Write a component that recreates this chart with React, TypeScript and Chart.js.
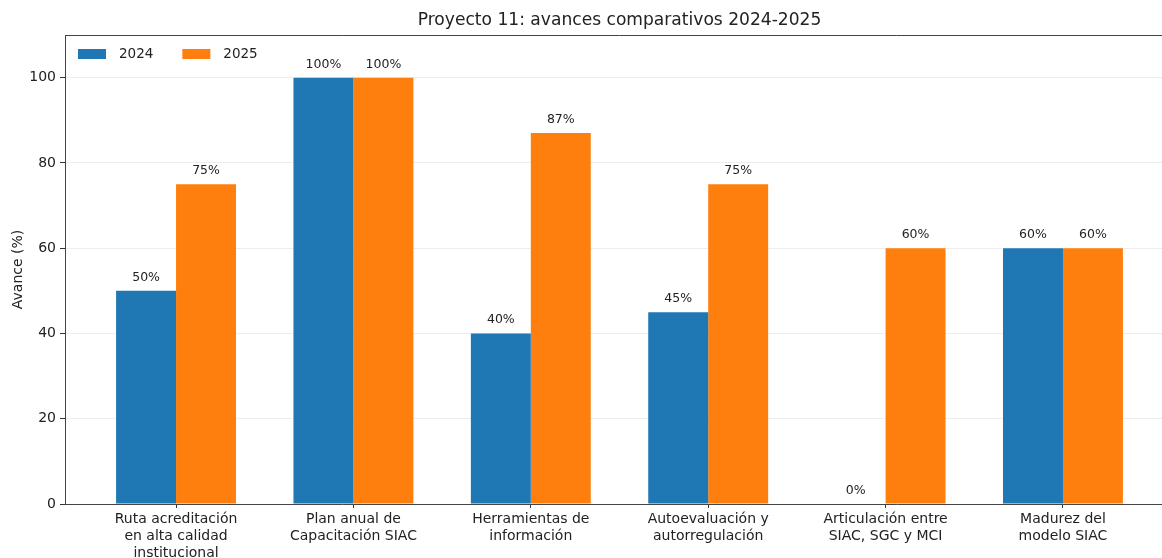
import React, { useEffect, useRef } from "react";
import { Chart, registerables } from "chart.js";

Chart.register(...registerables);

const categories: string[][] = [
  ["Ruta acreditación", "en alta calidad", "institucional"],
  ["Plan anual de", "Capacitación SIAC"],
  ["Herramientas de", "información"],
  ["Autoevaluación y", "autorregulación"],
  ["Articulación entre", "SIAC, SGC y MCI"],
  ["Madurez del", "modelo SIAC"],
];
const values2024 = [50, 100, 40, 45, 0, 60];
const values2025 = [75, 100, 87, 75, 60, 60];
const seriesLabels = ["2024", "2025"];
const seriesColors = ["#1f77b4", "#ff7f0e"];
const yTicks = [0, 20, 40, 60, 80, 100];
const chartTitle = "Proyecto 11: avances comparativos 2024-2025";
const yTitle = "Avance (%)";

const FONT = "'DejaVu Sans', sans-serif";

const topSpine = {
  id: "topSpine",
  afterDraw(chart: any) {
    const { ctx, chartArea } = chart;
    ctx.save();
    ctx.strokeStyle = "#444";
    ctx.lineWidth = 1;
    ctx.beginPath();
    ctx.moveTo(chartArea.left, chartArea.top + 0.5);
    ctx.lineTo(chartArea.right, chartArea.top + 0.5);
    ctx.stroke();
    ctx.restore();
  },
};

const valueLabels = {
  id: "valueLabels",
  afterDatasetsDraw(chart: any) {
    const { ctx } = chart;
    ctx.save();
    ctx.font = `12.5px ${FONT}`;
    ctx.fillStyle = "#222";
    ctx.textAlign = "center";
    ctx.textBaseline = "alphabetic";
    chart.data.datasets.forEach((ds: any, di: number) => {
      const meta = chart.getDatasetMeta(di);
      meta.data.forEach((el: any, i: number) => {
        const v = ds.data[i].y;
        ctx.fillText(`${v}%`, el.x, el.y - 10);
      });
    });
    ctx.restore();
  },
};

const customLegend = {
  id: "customLegend",
  afterDraw(chart: any) {
    const { ctx, chartArea } = chart;
    ctx.save();
    ctx.font = `13.5px ${FONT}`;
    ctx.textBaseline = "middle";
    ctx.textAlign = "left";
    let x = chartArea.left + 13;
    const y = chartArea.top + 14;
    chart.data.datasets.forEach((ds: any) => {
      ctx.fillStyle = ds.backgroundColor;
      ctx.fillRect(x, y, 28, 10);
      ctx.fillStyle = "#222";
      const tx = x + 28 + 13;
      ctx.fillText(ds.label, tx, y + 5);
      x = tx + ctx.measureText(ds.label).width + 29;
    });
    ctx.restore();
  },
};

export default function App() {
  const ref = useRef<HTMLCanvasElement>(null);
  useEffect(() => {
    if (!ref.current) return;
    const chart = new Chart(ref.current, {
      type: "bar",
      data: {
        datasets: [values2024, values2025].map((vals, si) => ({
          label: seriesLabels[si],
          data: vals.map((v, i) => ({ x: i, y: v })),
          backgroundColor: seriesColors[si],
          borderWidth: 0,
          categoryPercentage: 0.676,
          barPercentage: 1.0,
        })),
      },
      options: {
        responsive: false,
        animation: false,
        layout: { padding: { left: 0, right: 6, top: 0, bottom: 0 } },
        plugins: {
          legend: { display: false },
          tooltip: { enabled: false },
          title: {
            display: true,
            text: chartTitle,
            fullSize: false,
            color: "#222",
            font: { family: FONT, size: 17.1, weight: "normal", lineHeight: "18px" },
            padding: { top: 12, bottom: 5 },
          },
        },
        scales: {
          x: {
            type: "linear",
            offset: false,
            min: -0.626,
            max: 5.626,
            afterBuildTicks: (scale: any) => {
              scale.ticks = categories.map((_, i) => ({ value: i }));
            },
            afterFit: (scale: any) => {
              scale.height = 54;
            },
            ticks: {
              callback: (v: any) => categories[v as number] || "",
              color: "#222",
              font: { family: FONT, size: 14, lineHeight: "17px" },
              padding: 3,
              maxRotation: 0,
              autoSkip: false,
            },
            grid: {
              offset: false,
              drawOnChartArea: false,
              drawTicks: true,
              tickLength: 4,
              tickColor: "#333",
            },
            border: { display: true, color: "#444", width: 1 },
          },
          y: {
            min: 0,
            max: 110,
            afterBuildTicks: (scale: any) => {
              scale.ticks = yTicks.map((v) => ({ value: v }));
            },
            afterFit: (scale: any) => {
              scale.width = 65;
            },
            ticks: {
              color: "#222",
              font: { family: FONT, size: 14 },
              padding: 4,
            },
            grid: {
              color: "rgba(0,0,0,0.07)",
              tickColor: "#333",
              tickLength: 5,
            },
            border: { display: true, color: "#444", width: 1 },
            title: {
              display: true,
              text: yTitle,
              color: "#222",
              font: { family: FONT, size: 14, lineHeight: "16px" },
              padding: { top: 10, bottom: 0 },
            },
          },
        },
      },
      plugins: [topSpine, valueLabels, customLegend],
    });
    return () => chart.destroy();
  }, []);

  return (
    <div
      style={{
        position: "absolute",
        left: 0,
        top: 0,
        width: 1162,
        height: 558,
        overflow: "hidden",
        background: "#fff",
      }}
    >
      <canvas ref={ref} width={1180} height={558} style={{ display: "block" }} />
    </div>
  );
}
